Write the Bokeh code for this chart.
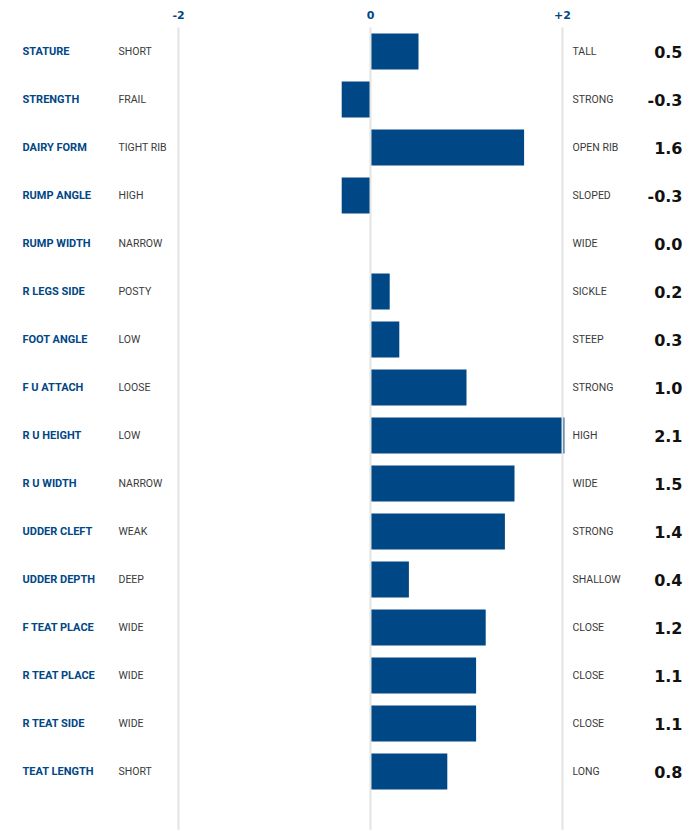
from bokeh.plotting import figure
from bokeh.models import Range1d, ColumnDataSource, FixedTicker
from bokeh.core.properties import value
from bokeh.embed import file_html
from bokeh.resources import INLINE

traits = ["STATURE", "STRENGTH", "DAIRY FORM", "RUMP ANGLE", "RUMP WIDTH", "R LEGS SIDE",
          "FOOT ANGLE", "F U ATTACH", "R U HEIGHT", "R U WIDTH", "UDDER CLEFT", "UDDER DEPTH",
          "F TEAT PLACE", "R TEAT PLACE", "R TEAT SIDE", "TEAT LENGTH"]
low_labels = ["SHORT", "FRAIL", "TIGHT RIB", "HIGH", "NARROW", "POSTY", "LOW", "LOOSE",
              "LOW", "NARROW", "WEAK", "DEEP", "WIDE", "WIDE", "WIDE", "SHORT"]
high_labels = ["TALL", "STRONG", "OPEN RIB", "SLOPED", "WIDE", "SICKLE", "STEEP", "STRONG",
               "HIGH", "WIDE", "STRONG", "SHALLOW", "CLOSE", "CLOSE", "CLOSE", "LONG"]
values = [0.5, -0.3, 1.6, -0.3, 0.0, 0.2, 0.3, 1.0, 2.1, 1.5, 1.4, 0.4, 1.2, 1.1, 1.1, 0.8]
tick_values = [-2, 0, 2]
tick_labels = {-2: "-2", 0: "0", 2: "+2"}

BLUE = "#004785"
rows = list(range(len(traits)))
shown = [max(min(v, 2.02), -2.0) for v in values]
src = ColumnDataSource(dict(
    y=rows, trait=traits, low=low_labels, high=high_labels,
    val=[f"{v:.1f}" for v in values],
    left=[min(0.0, v) for v in shown], right=[max(0.0, v) for v in shown],
))

W, H = 691, 830
X0, PX = 370, 96      # screen x of zero, pixels per unit
TOP = 27              # frame top
def dx(px):
    return (px - X0) / PX

p = figure(width=W, height=H, output_backend="svg", toolbar_location=None,
           x_range=Range1d(dx(0), dx(W)),
           y_range=Range1d((H - TOP - 24) / 48, -0.5),
           x_axis_location="above", min_border_left=0, min_border_right=0,
           min_border_bottom=0, min_border_top=TOP)
p.outline_line_color = None
p.background_fill_color = "white"
p.yaxis.visible = False
p.ygrid.visible = False
ax = p.xaxis[0]
ax.ticker = FixedTicker(ticks=tick_values)
ax.major_label_overrides = tick_labels
ax.axis_line_color = None
ax.major_tick_line_color = None
ax.minor_tick_line_color = None
ax.major_tick_out = 0
ax.major_tick_in = 0
ax.major_label_text_color = BLUE
ax.major_label_text_font = "DejaVu Sans"
ax.major_label_text_font_style = "bold"
ax.major_label_text_font_size = "11px"
ax.major_label_standoff = 9
p.xgrid.ticker = FixedTicker(ticks=tick_values)
p.xgrid.grid_line_color = "#e4e4e4"
p.xgrid.grid_line_width = 2
p.xgrid.level = "overlay"

p.hbar(y="y", left="left", right="right", height=0.75, source=src,
       fill_color=BLUE, line_color=None)

p.text(x=dx(22), y="y", text="trait", source=src, text_font=value("Roboto"),
       text_font_style="bold", text_font_size="11px", text_color=BLUE,
       text_baseline="middle", text_align="left")
p.text(x=dx(118), y="y", text="low", source=src, text_font=value("Roboto"),
       text_font_size="10.5px", text_color="#3a3a3a",
       text_baseline="middle", text_align="left")
p.text(x=dx(572), y="y", text="high", source=src, text_font=value("Roboto"),
       text_font_size="10.5px", text_color="#3a3a3a",
       text_baseline="middle", text_align="left")
p.text(x=dx(682), y="y", text="val", source=src, text_font=value("DejaVu Sans"),
       text_font_style="bold", text_font_size="16px", text_color="#111111",
       text_baseline="middle", text_align="right")

open("out.html", "w").write(file_html(p, INLINE))
